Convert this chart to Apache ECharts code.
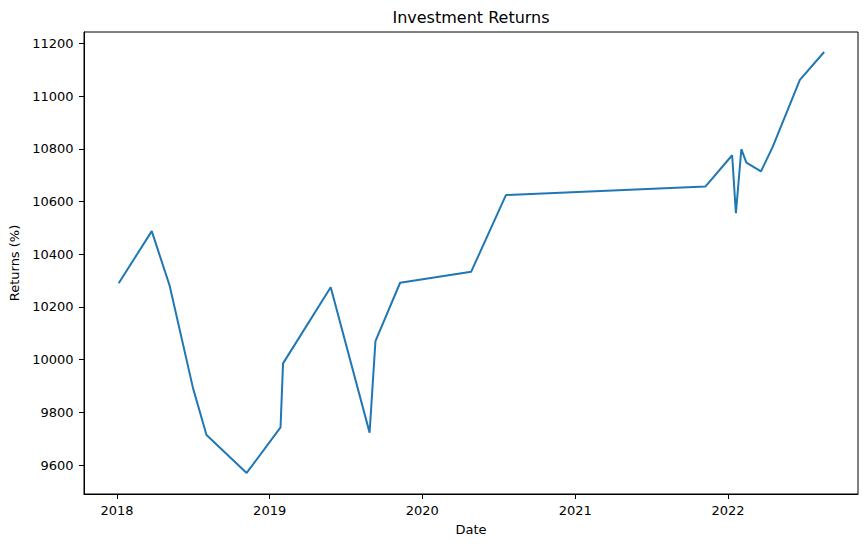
<!DOCTYPE html>
<html>
<head>
<meta charset="utf-8">
<script src="https://cdn.jsdelivr.net/npm/echarts@6/dist/echarts.min.js"></script>
<style>
  html, body { margin: 0; padding: 0; background: #fff; }
  #chart { width: 868px; height: 547px; }
</style>
</head>
<body>
<div id="chart"></div>
<script>
var dates = [
  '2018-01-05', '2018-03-25', '2018-05-07', '2018-07-02', '2018-08-03', '2018-11-07',
  '2019-01-27', '2019-02-02', '2019-05-27', '2019-08-28', '2019-09-11', '2019-11-09',
  '2020-04-27', '2020-07-19', '2021-11-08',
  '2022-01-11', '2022-01-20', '2022-02-02', '2022-02-14', '2022-03-21', '2022-04-18',
  '2022-06-22', '2022-08-19'
];
var returns = [
  10290, 10488, 10280, 9890, 9714, 9570,
  9743, 9986, 10275, 9723, 10070, 10292,
  10334, 10625, 10657,
  10776, 10556, 10799, 10748, 10715, 10808,
  11062, 11168
];
var yearTicks = ['2018-01-01', '2019-01-01', '2020-01-01', '2021-01-01', '2022-01-01'];
var valueTicks = [9600, 9800, 10000, 10200, 10400, 10600, 10800, 11000, 11200];

// dates as UTC milliseconds, plotted on a plain value axis
function utc(s) {
  var p = s.split('-');
  return Date.UTC(+p[0], +p[1] - 1, +p[2]);
}

var font = 'DejaVu Sans';
var seriesData = dates.map(function(d, i) { return [utc(d), returns[i]]; });
var yearMs = yearTicks.map(utc);

var chart = echarts.init(document.getElementById('chart'), null, { renderer: 'svg' });
chart.setOption({
  animation: false,
  textStyle: { fontFamily: font },
  graphic: [{
    type: 'text',
    x: 471,
    y: 17,
    style: {
      text: 'Investment Returns',
      font: '16px "DejaVu Sans"',
      fill: '#000',
      textAlign: 'center',
      textVerticalAlign: 'middle'
    }
  }],
  grid: {
    left: 84, right: 10, top: 32, bottom: 53,
    containLabel: false,
    outerBoundsMode: 'none',
    show: true,
    borderColor: '#000',
    borderWidth: 1,
    backgroundColor: 'transparent'
  },
  xAxis: {
    type: 'value',
    min: utc('2017-10-14'),
    max: utc('2022-11-08'),
    name: 'Date',
    nameLocation: 'middle',
    nameGap: 29,
    nameTextStyle: { color: '#000', fontSize: 13, fontFamily: font },
    axisLine: { show: true, lineStyle: { color: '#000', width: 1 } },
    axisTick: { show: true, length: 5, inside: false, lineStyle: { color: '#000' }, customValues: yearMs },
    axisLabel: {
      color: '#000', fontSize: 13, fontFamily: font, margin: 9.5,
      customValues: yearMs,
      formatter: function(v) { return String(new Date(v).getUTCFullYear()); }
    },
    splitLine: { show: false }
  },
  yAxis: {
    type: 'value',
    min: 9490,
    max: 11244,
    name: 'Returns (%)',
    nameLocation: 'middle',
    nameGap: 57,
    nameTextStyle: { color: '#000', fontSize: 13, fontFamily: font },
    axisLine: { show: true, lineStyle: { color: '#000', width: 1 } },
    axisTick: { show: true, length: 5, lineStyle: { color: '#000' }, customValues: valueTicks },
    axisLabel: {
      color: '#000', fontSize: 13, fontFamily: font, margin: 10.5,
      customValues: valueTicks,
      formatter: function(v) { return String(v); }
    },
    splitLine: { show: false }
  },
  series: [{
    type: 'line',
    data: seriesData,
    showSymbol: false,
    symbol: 'none',
    lineStyle: { color: '#1f77b4', width: 2 },
    itemStyle: { color: '#1f77b4' }
  }]
});
window.addEventListener('resize', function() { chart.resize(); });
</script>
</body>
</html>
